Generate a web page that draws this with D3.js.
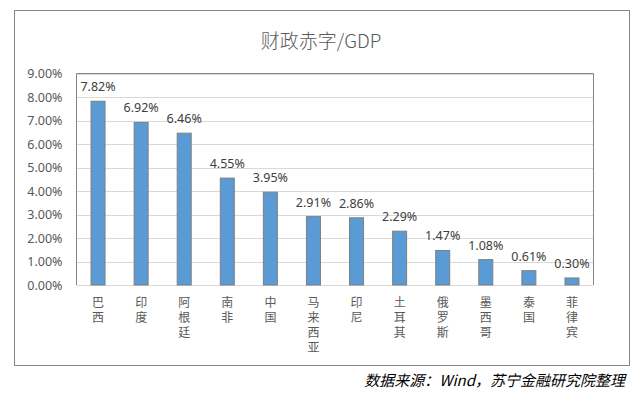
<!DOCTYPE html>
<html>

<head>
    <meta charset='utf-8'>
    <title>财政赤字/GDP</title>
    <script type='text/javascript' src='https://cdn.jsdelivr.net/npm/d3@7'></script>
    <style>
        body { margin: 0; background: #fff; }
        text { font-family: 'Noto Sans', 'Noto Sans CJK SC', sans-serif; }
    </style>
</head>

<body>
    <svg width='639' height='393'></svg>
    <script type='text/javascript'>

        const countries = ['巴西', '印度', '阿根廷', '南非', '中国', '马来西亚', '印尼', '土耳其', '俄罗斯', '墨西哥', '泰国', '菲律宾']
        const deficit = [7.82, 6.92, 6.46, 4.55, 3.95, 2.91, 2.86, 2.29, 1.47, 1.08, 0.61, 0.30]
        const yTicks = [0, 1, 2, 3, 4, 5, 6, 7, 8, 9]

        const svg = d3.select('svg')
        const plot = { left: 76.5, right: 593.5, top: 73.5, bottom: 285 }

        // 外框
        svg.append('rect')
            .attr('x', 14.5).attr('y', 10.5)
            .attr('width', 615).attr('height', 355)
            .attr('fill', '#fff').attr('stroke', '#868686')

        svg.append('text')
            .attr('x', 321).attr('y', 48)
            .attr('text-anchor', 'middle')
            .attr('font-size', 19)
            .attr('fill', '#595959')
            .style('font-family', "'Noto Sans CJK SC', sans-serif")
            .style('font-weight', 300)
            .text('财政赤字/GDP')

        const x = d3.scaleBand()
            .domain(countries)
            .range([plot.left, plot.right])
            .paddingInner(0.675)
            .paddingOuter(0.3375)

        const y = d3.scaleLinear()
            .domain([0, 9])
            .range([plot.bottom, plot.top])

        // 网格线
        svg.append('g')
            .selectAll('line')
            .data(yTicks)
            .join('line')
            .attr('x1', plot.left).attr('x2', plot.right)
            .attr('y1', d => Math.round(y(d)) + 0.5)
            .attr('y2', d => Math.round(y(d)) + 0.5)
            .attr('stroke', '#d9d9d9')

        // 绘图区边框
        svg.append('path')
            .attr('d', `M${plot.left},${plot.bottom}V${plot.top}H${plot.right}V${plot.bottom}`)
            .attr('fill', 'none')
            .attr('stroke', '#868686')

        const yAxis = svg.append('g')
            .attr('transform', `translate(${plot.left},0)`)
            .call(d3.axisLeft(y).tickValues(yTicks).tickSize(0).tickPadding(14)
                .tickFormat(d => d.toFixed(2) + '%'))
        yAxis.select('.domain').remove()
        yAxis.selectAll('text')
            .attr('font-size', 12.5)
            .attr('fill', '#595959')
            .style('font-family', "'Noto Sans', sans-serif")

        svg.append('g')
            .selectAll('rect')
            .data(deficit)
            .join('rect')
            .attr('x', (d, i) => x(countries[i]))
            .attr('y', d => y(d))
            .attr('width', x.bandwidth())
            .attr('height', d => plot.bottom - y(d))
            .attr('fill', '#5b9bd5')
            .attr('stroke', '#7f7f7f')
            .attr('stroke-width', 1)

        svg.append('g')
            .selectAll('text')
            .data(deficit)
            .join('text')
            .attr('x', (d, i) => x(countries[i]) + x.bandwidth() / 2)
            .attr('y', d => y(d) - 10)
            .attr('text-anchor', 'middle')
            .attr('font-size', 12.5)
            .attr('fill', '#404040')
            .style('font-family', "'Noto Sans', sans-serif")
            .text(d => d.toFixed(2) + '%')

        // x轴竖排标签
        svg.append('g')
            .selectAll('text')
            .data(countries)
            .join('text')
            .attr('x', d => x(d) + x.bandwidth() / 2)
            .attr('y', 296)
            .attr('font-size', 12)
            .attr('fill', '#595959')
            .style('font-family', "'Noto Sans CJK SC', sans-serif")
            .style('writing-mode', 'vertical-rl')
            .style('text-orientation', 'upright')
            .style('letter-spacing', '3px')
            .text(d => d)

        svg.append('text')
            .attr('x', 625).attr('y', 386)
            .attr('text-anchor', 'end')
            .attr('font-size', 15)
            .attr('font-style', 'italic')
            .attr('fill', '#000')
            .style('font-family', "'Noto Sans CJK SC', sans-serif")
            .text('数据来源：Wind，苏宁金融研究院整理')
    </script>
</body>

</html>
